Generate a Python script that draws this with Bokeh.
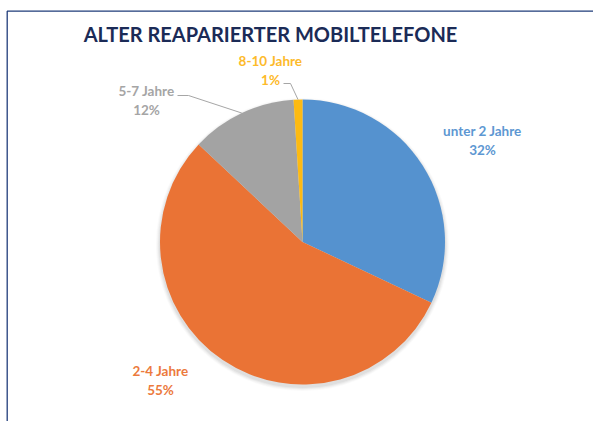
import math
from bokeh.plotting import figure
from bokeh.models import Range1d, ColumnDataSource
from bokeh.core.properties import value
from bokeh.embed import file_html
from bokeh.resources import INLINE

# ---- data ----
categories = ["unter 2 Jahre", "2-4 Jahre", "5-7 Jahre", "8-10 Jahre"]
shares = [32, 55, 12, 1]
title_text = "ALTER REAPARIERTER MOBILTELEFONE"

# ---- styles / layout ----
slice_colors = ["#5592CF", "#EA7335", "#A3A3A3", "#FDBA12"]
label_colors = ["#5D97D2", "#EC7A3D", "#A5A5A5", "#FDBA2A"]
W, H = 593, 421

def px(x):
    return x

def py(y):
    return H - y

cx, cy, R = px(302), py(241.5), 142.5
# label centre offsets from pie centre in pixels (dx right, dy down)
label_offsets = [(180, -102), (-142, 138.5), (-156, -141.5), (-32, -172)]
# leader line start (text end) offsets, None if no leader
leader_starts = [None, None, (-125, -146.5), (-19, -158.5)]
leader_knee = [None, None, (-114, -146.5), (-12, -158.5)]

p = figure(width=W, height=H, output_backend="svg", toolbar_location=None,
           x_range=Range1d(0, W), y_range=Range1d(0, H), min_border=0)
p.axis.visible = False
p.grid.visible = False
p.outline_line_color = None
p.background_fill_color = "white"
p.border_fill_color = "white"

# frame
p.line([px(6.7), px(6.7), W], [0, py(10.7), py(10.7)], line_color="#1F3C7A", line_width=1.3)

# soft shadow
for dr, a in [(4, 0.04), (3, 0.06), (2, 0.08), (1, 0.10)]:
    p.circle(x=[cx], y=[cy - 2.5], radius=R + dr, fill_color="#808080",
             fill_alpha=a, line_color=None)

total = sum(shares)
starts, ends, mids = [], [], []
cum = 0
for v in shares:
    s = math.pi / 2 - 2 * math.pi * cum / total
    cum += v
    e = math.pi / 2 - 2 * math.pi * cum / total
    starts.append(s)
    ends.append(e)
    mids.append((s + e) / 2)

src = ColumnDataSource(dict(x=[cx] * len(shares), y=[cy] * len(shares),
                            start=starts, end=ends, color=slice_colors))
p.wedge(x="x", y="y", radius=R, start_angle="start", end_angle="end",
        direction="clock", fill_color="color", line_color=None, source=src)

# labels
font = value("Lato")
for i, cat in enumerate(categories):
    dx, dy = label_offsets[i]
    lx, ly = cx + dx, cy - dy
    pct = f"{round(shares[i] / total * 100)}%"
    p.text(x=[lx], y=[ly + 9.5], text=[cat], text_font=font, text_font_size="13.5px",
           text_font_style="bold", text_color=label_colors[i],
           text_align="center", text_baseline="middle")
    p.text(x=[lx], y=[ly - 9.5], text=[pct], text_font=font, text_font_size="13.5px",
           text_font_style="bold", text_color=label_colors[i],
           text_align="center", text_baseline="middle")
    if leader_starts[i] is not None:
        sx, sy = leader_starts[i]
        kx, ky = leader_knee[i]
        ex = cx + R * math.cos(mids[i])
        ey = cy + R * math.sin(mids[i])
        p.line([cx + sx, cx + kx, ex], [cy - sy, cy - ky, ey],
               line_color="#A6A6A6", line_width=1)

# title
p.text(x=[px(270)], y=[py(33)], text=[title_text], text_font=font,
       text_font_size="20px", text_font_style="bold", text_color="#1B2B57",
       text_align="center", text_baseline="middle")

open("out.html", "w").write(file_html(p, INLINE))
